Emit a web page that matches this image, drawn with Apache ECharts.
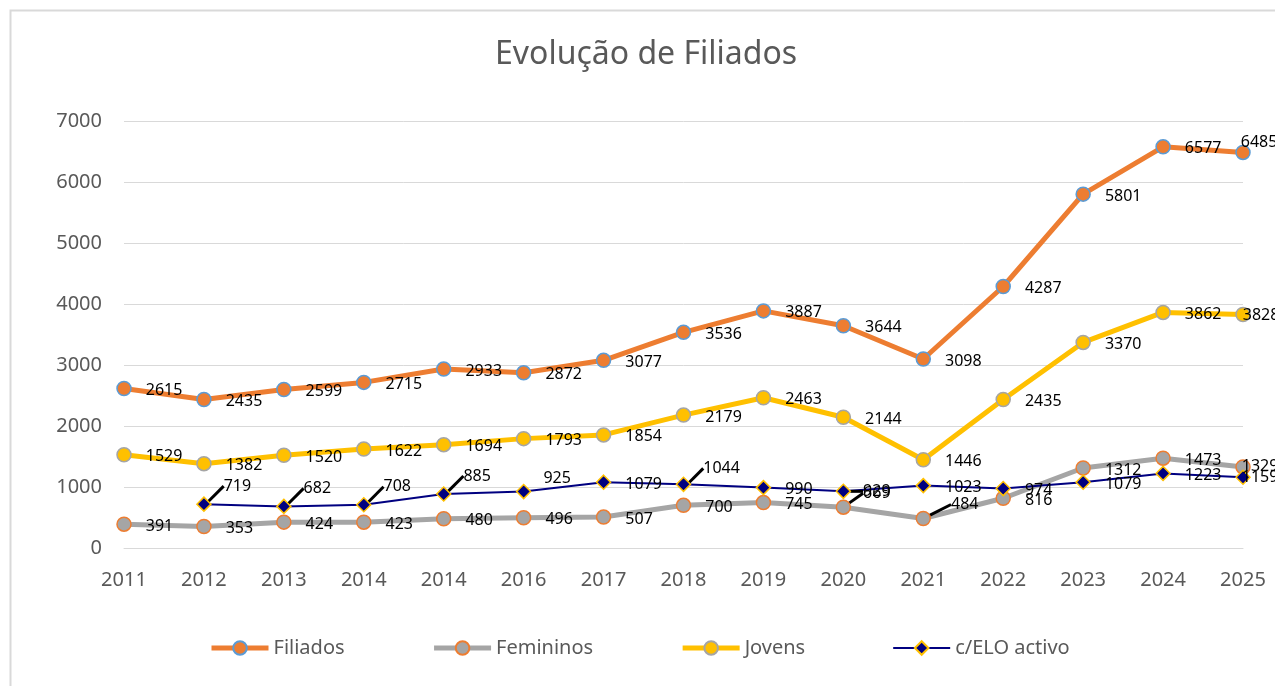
<!DOCTYPE html>
<html>
<head>
<meta charset="utf-8">
<title>Evolução de Filiados</title>
<script src="https://cdn.jsdelivr.net/npm/echarts@6/dist/echarts.min.js"></script>
<style>
  html, body { margin: 0; padding: 0; background: #fff; }
  #main { width: 1275px; height: 686px; }
</style>
</head>
<body>
<div id="main"></div>
<script>
var years = ['2011', '2012', '2013', '2014', '2014', '2016', '2017', '2018', '2019', '2020', '2021', '2022', '2023', '2024', '2025'];
var filiados = [2615, 2435, 2599, 2715, 2933, 2872, 3077, 3536, 3887, 3644, 3098, 4287, 5801, 6577, 6485];
var femininos = [391, 353, 424, 423, 480, 496, 507, 700, 745, 669, 484, 816, 1312, 1473, 1329];
var jovens = [1529, 1382, 1520, 1622, 1694, 1793, 1854, 2179, 2463, 2144, 1446, 2435, 3370, 3862, 3828];
var eloActivo = ['-', 719, 682, 708, 885, 925, 1079, 1044, 990, 929, 1023, 974, 1079, 1223, 1159];
var yTicks = [0, 1000, 2000, 3000, 4000, 5000, 6000, 7000];

var grey = '#595959';
var font = '"Noto Sans", "Open Sans", sans-serif';

// labels that Excel moved by hand (series index -> data index -> [dx, dy])
var moved = {
  0: {14: [-24, -10]},
  1: {9: [-2, -14], 10: [6, -14], 14: [-23, 0]},
  2: {14: [-22, 1]},
  3: {1: [-2, -18], 2: [-2, -18], 3: [-2, -18], 4: [-2, -18], 5: [-2, -13], 7: [-2, -16], 9: [-2, 0], 14: [-23, 0]}
};
// labels with Excel leader lines
var leaders = {
  1: {9: true, 10: true},
  3: {1: true, 2: true, 3: true, 4: true, 7: true, 9: true}
};

function dataLabel() {
  return {
    show: true,
    position: 'right',
    distance: 14,
    color: '#000',
    fontSize: 16,
    fontFamily: font
  };
}

function withLeaders(seriesIdx, values) {
  return values.map(function (v, i) {
    if (leaders[seriesIdx] && leaders[seriesIdx][i]) {
      return {value: v, labelLine: {show: true, lineStyle: {color: '#000', width: 3}}};
    }
    return v;
  });
}

var myChart = echarts.init(document.getElementById('main'));
var option = {
  backgroundColor: '#fff',
  animation: false,
  textStyle: {fontFamily: font},
  title: {
    text: 'Evolução de Filiados',
    left: 495,
    top: 39,
    padding: 0,
    textStyle: {color: grey, fontSize: 32, fontWeight: 'normal', fontFamily: font}
  },
  graphic: [{
    type: 'rect',
    left: 8,
    top: 8,
    shape: {width: 1320, height: 720},
    style: {fill: 'none', stroke: '#d9d9d9', lineWidth: 2},
    z: -10
  }],
  legend: {
    left: 204,
    top: 633,
    itemWidth: 57,
    itemHeight: 17,
    itemGap: 87,
    textStyle: {color: grey, fontSize: 20, fontFamily: font},
    data: [
      {name: 'Filiados', lineStyle: {width: 5}},
      {name: 'Femininos', lineStyle: {width: 5}},
      {name: 'Jovens', lineStyle: {width: 5}},
      {name: 'c/ELO activo', lineStyle: {width: 2}}
    ]
  },
  grid: {
    left: 124,
    right: 32,
    top: 121,
    bottom: 138
  },
  xAxis: {
    type: 'category',
    data: years,
    boundaryGap: false,
    axisLine: {lineStyle: {color: '#d9d9d9', width: 1}},
    axisTick: {show: false},
    axisLabel: {color: grey, fontSize: 20, margin: 22, fontFamily: font, interval: 0}
  },
  yAxis: {
    type: 'value',
    min: yTicks[0],
    max: yTicks[yTicks.length - 1],
    interval: 1000,
    axisLine: {show: false},
    axisTick: {show: false},
    axisLabel: {
      color: grey, fontSize: 20, margin: 22, fontFamily: font,
      formatter: function (v) { return String(v); }
    },
    splitLine: {lineStyle: {color: '#d9d9d9', width: 1}}
  },
  series: [
    {
      name: 'Filiados',
      type: 'line',
      data: filiados,
      symbol: 'circle',
      symbolSize: 14,
      lineStyle: {color: '#ed7d31', width: 5},
      itemStyle: {color: '#ed7d31', borderColor: '#5b9bd5', borderWidth: 1.5},
      label: dataLabel()
    },
    {
      name: 'Femininos',
      type: 'line',
      data: withLeaders(1, femininos),
      symbol: 'circle',
      symbolSize: 14,
      lineStyle: {color: '#a5a5a5', width: 5},
      itemStyle: {color: '#a5a5a5', borderColor: '#ed7d31', borderWidth: 1.5},
      label: dataLabel()
    },
    {
      name: 'Jovens',
      type: 'line',
      data: jovens,
      symbol: 'circle',
      symbolSize: 14,
      lineStyle: {color: '#ffc000', width: 5},
      itemStyle: {color: '#ffc000', borderColor: '#a5a5a5', borderWidth: 1.5},
      label: dataLabel()
    },
    {
      name: 'c/ELO activo',
      type: 'line',
      data: withLeaders(3, eloActivo),
      symbol: 'diamond',
      symbolSize: 14,
      lineStyle: {color: '#000080', width: 2},
      itemStyle: {color: '#000080', borderColor: '#ffc000', borderWidth: 1.5},
      label: dataLabel()
    }
  ],
  labelLayout: function (params) {
    var m = moved[params.seriesIndex];
    if (m && m[params.dataIndex]) {
      return {dx: m[params.dataIndex][0], dy: m[params.dataIndex][1]};
    }
    return {dy: 2};
  }
};
myChart.setOption(option);

window.onresize = function () {
  myChart.resize();
};
</script>
</body>
</html>
